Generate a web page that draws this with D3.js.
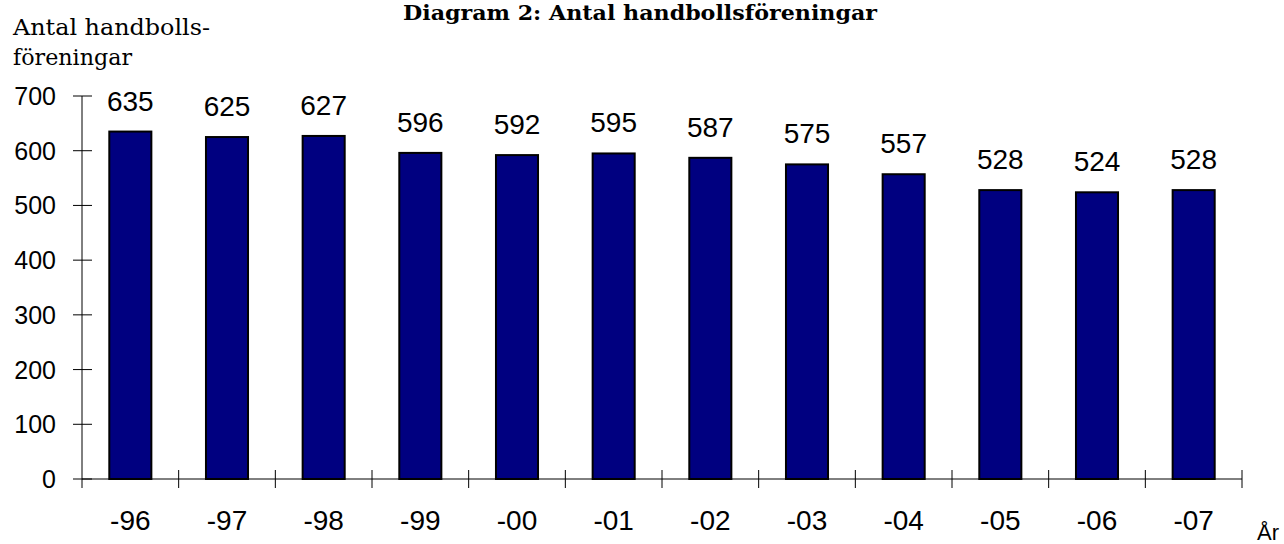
<!DOCTYPE html>
<html>
<head>
<meta charset="utf-8">
<script src="https://cdn.jsdelivr.net/npm/d3@7"></script>
<style>
  body { margin: 0; background: #fff; }
  svg { display: block; }
</style>
</head>
<body>
<script>
const years = ["-96", "-97", "-98", "-99", "-00", "-01", "-02", "-03", "-04", "-05", "-06", "-07"];
const counts = [635, 625, 627, 596, 592, 595, 587, 575, 557, 528, 524, 528];
const yTicks = [0, 100, 200, 300, 400, 500, 600, 700];

const w = 1284;
const h = 544;

const m = {
  top: 96,
  right: 42,
  bottom: 65,
  left: 82 };

const serif = "'DejaVu Serif', 'Liberation Serif', serif";
const sans = "'Liberation Sans', Arial, sans-serif";

const svg = d3.select("body").
append("svg").
attr("width", w).
attr("height", h);

// bar positions (narrow bars inside each category slot)
const x = d3.scaleBand().
domain(years).
range([m.left, w - m.right]).
paddingInner(0.565).
paddingOuter(0.2825);

// full category slots, for ticks and labels
const x0 = d3.scaleBand().
domain(years).
range([m.left, w - m.right]);

const y = d3.scaleLinear().
domain([0, 700]).
range([h - m.bottom, m.top]);

// titles
svg.append("text").
attr("x", 403).
attr("y", 20).
attr("textLength", 474).
attr("lengthAdjust", "spacingAndGlyphs").
style("font-family", serif).
style("font-weight", "bold").
style("font-size", "20px").
text("Diagram 2: Antal handbollsföreningar");

svg.append("text").
attr("x", 13).
attr("y", 35).
attr("textLength", 197).
attr("lengthAdjust", "spacingAndGlyphs").
style("font-family", serif).
style("font-size", "22px").
text("Antal handbolls-");

svg.append("text").
attr("x", 13).
attr("y", 65).
attr("textLength", 119).
attr("lengthAdjust", "spacingAndGlyphs").
style("font-family", serif).
style("font-size", "22px").
text("föreningar");

// bars
svg.selectAll("rect.bar").
data(counts).
enter().
append("rect").
attr("class", "bar").
attr("x", (d, i) => x(years[i])).
attr("y", d => y(d)).
attr("width", x.bandwidth()).
attr("height", d => y(0) - y(d)).
attr("fill", "#000080").
attr("stroke", "#000").
attr("stroke-width", 2);

// value labels
svg.selectAll("text.val").
data(counts).
enter().
append("text").
attr("class", "val").
attr("x", (d, i) => x(years[i]) + x.bandwidth() / 2).
attr("y", d => y(d) - 21).
attr("text-anchor", "middle").
style("font-family", sans).
style("font-size", "28px").
text(d => d);

// y axis
const yAxis = svg.append("g");
yAxis.append("line").
attr("x1", m.left).
attr("x2", m.left).
attr("y1", y(700)).
attr("y2", y(0) + 9).
attr("stroke", "#000");

yAxis.selectAll("line.tick").
data(yTicks).
enter().
append("line").
attr("class", "tick").
attr("x1", m.left - 9).
attr("x2", m.left + 10).
attr("y1", d => y(d)).
attr("y2", d => y(d)).
attr("stroke", "#000");

yAxis.selectAll("text").
data(yTicks).
enter().
append("text").
attr("x", 56).
attr("y", d => y(d) + 9).
attr("text-anchor", "end").
style("font-family", sans).
style("font-size", "25px").
text(d => d);

// x axis
const xAxis = svg.append("g");
xAxis.append("line").
attr("x1", m.left).
attr("x2", w - m.right).
attr("y1", y(0)).
attr("y2", y(0)).
attr("stroke", "#000");

xAxis.selectAll("line.tick").
data(years).
enter().
append("line").
attr("class", "tick").
attr("x1", d => x0(d) + x0.bandwidth()).
attr("x2", d => x0(d) + x0.bandwidth()).
attr("y1", y(0) - 9).
attr("y2", y(0) + 9).
attr("stroke", "#000");

xAxis.selectAll("text").
data(years).
enter().
append("text").
attr("x", d => x0(d) + x0.bandwidth() / 2).
attr("y", 530).
attr("text-anchor", "middle").
style("font-family", sans).
style("font-size", "28px").
text(d => d);

svg.append("text").
attr("x", 1257).
attr("y", 540).
style("font-family", sans).
style("font-size", "22px").
text("År");
</script>
</body>
</html>
